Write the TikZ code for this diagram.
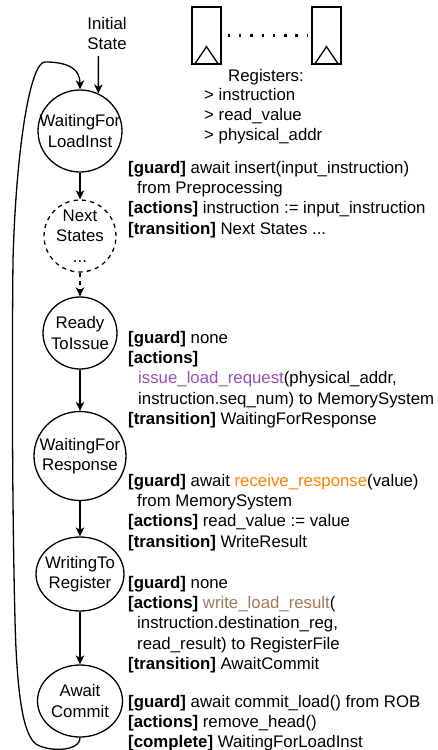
\documentclass[tikz,border=0pt]{standalone}
\usepackage{fontspec}
\setmainfont{Liberation Sans}
\usetikzlibrary{shapes.geometric,arrows.meta,calc}
\definecolor{purpF}{RGB}{155,80,180}
\definecolor{oranF}{RGB}{255,128,0}
\definecolor{browF}{RGB}{160,120,90}
\newcommand{\zc}[1]{\makebox[0pt]{#1}}
\begin{document}
\begin{tikzpicture}[x=1pt,y=-1pt,
  font=\fontsize{16.8}{20.3}\selectfont,
  st/.style={draw, ellipse, line width=1.3pt, inner sep=0pt, align=center},
  arr/.style={line width=1.3pt, -{Stealth[length=9pt,width=8.5pt,inset=2.5pt]}},
  txt/.style={anchor=north west, align=left, inner sep=0pt},
  regbox/.style={draw, line width=1.3pt, minimum width=29pt, minimum height=57pt, inner sep=0pt},
  dashy/.style={dash pattern=on 4.2pt off 4.2pt},
]
\useasboundingbox (0,0) rectangle (438,750);

% states
\node[st, minimum width=84pt, minimum height=82pt] (w1) at (80,131) {\zc{WaitingFor}\\\zc{LoadInst}};
\node[draw, circle, line width=1.3pt, dashy, inner sep=0pt, minimum size=72pt, align=center] (ns) at (80,236) {\zc{Next}\\\zc{States}\\\zc{...}};
\node[st, minimum width=74pt, minimum height=72pt] (rti) at (80,333) {\zc{Ready}\\\zc{ToIssue}};
\node[st, minimum width=92pt, minimum height=89pt] (wfr) at (80,456) {\zc{WaitingFor}\\\zc{Response}};
\node[st, minimum width=88pt, minimum height=74pt] (wtr) at (80,574) {\zc{WritingTo}\\\zc{Register}};
\node[st, minimum width=85pt, minimum height=72pt] (ac) at (80,701) {\zc{Await}\\\zc{Commit}};

% initial
\node[align=center, inner sep=0pt, anchor=north] (init) at (107,17) {Initial\\State};
\coordinate (istart) at (98.4,56);
\draw[arr] (istart) -- (w1.64);

% transitions
\draw[arr] (w1) -- (ns);
\draw[arr, dashy] (ns) -- (rti);
\draw[arr] (rti) -- (wfr);
\draw[arr] (wfr) -- (wtr);
\draw[arr] (wtr) -- (ac);
\draw[arr] (ac.south) .. controls (80,752) and (48,752) .. (36,744)
  .. controls (24,735) and (17,700) .. (15,620)
  .. controls (12,500) and (12,350) .. (13,260)
  .. controls (16,150) and (30,62) .. (45,62)
  .. controls (70,62) and (80,70) .. (w1.north);

% registers
\node[regbox] (r1) at (206.5,35.5) {};
\node[regbox] (r2) at (326.5,35.5) {};
\draw[line width=1.3pt] ($(r1.south west)+(3,0)$) -- ($(r1.south)+(0,-18)$) -- ($(r1.south east)+(-3,0)$);
\draw[line width=1.3pt] ($(r2.south west)+(3,0)$) -- ($(r2.south)+(0,-18)$) -- ($(r2.south east)+(-3,0)$);
\draw[line width=2.4pt, dash pattern=on 2.4pt off 8.9pt] ($(r1.east)+(6,0)$) -- ($(r2.west)+(-3,0)$);
\node[txt, font=\fontsize{16.8}{19.6}\selectfont] (regtxt) at (204,69) {\hspace*{24pt}Registers:\\> instruction\\> read\_value\\> physical\_addr};

% text blocks
\node[txt] (b1) at (128,161) {\textbf{[guard]} await insert(input\_instruction)\\
\hspace*{9pt}from Preprocessing\\
\textbf{[actions]} instruction := input\_instruction\\
\textbf{[transition]} Next States ...};

\node[txt] (b2) at (128,331) {\textbf{[guard]} none\\
\textbf{[actions]}\\
\hspace*{10pt}\textcolor{purpF}{issue\_load\_request}(physical\_addr,\\
\hspace*{10pt}instruction.seq\_num) to MemorySystem\\
\textbf{[transition]} WaitingForResponse};

\node[txt] (b3) at (128,474) {\textbf{[guard]} await \textcolor{oranF}{receive\_response}(value)\\
\hspace*{9pt}from MemorySystem\\
\textbf{[actions]} read\_value := value\\
\textbf{[transition]} WriteResult};

\node[txt] (b4) at (128,576) {\textbf{[guard]} none\\
\textbf{[actions]} \textcolor{browF}{write\_load\_result}(\\
\hspace*{9pt}instruction.destination\_reg,\\
\hspace*{9pt}read\_result) to RegisterFile\\
\textbf{[transition]} AwaitCommit};

\node[txt] (b5) at (128,695) {\textbf{[guard]} await commit\_load() from ROB\\
\textbf{[actions]} remove\_head()\\
\textbf{[complete]} WaitingForLoadInst};
\end{tikzpicture}
\end{document}
